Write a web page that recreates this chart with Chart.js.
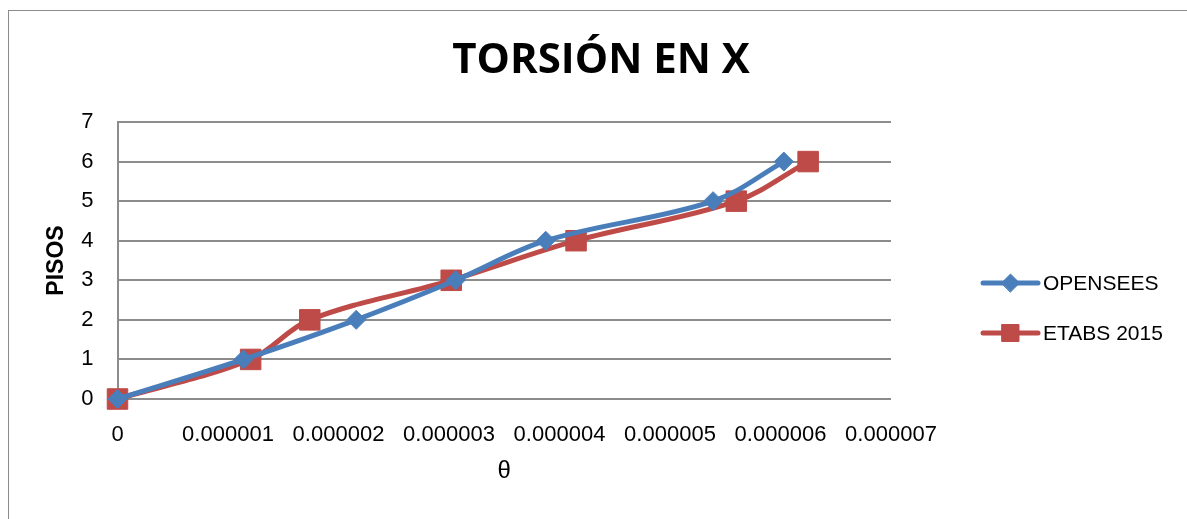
<!DOCTYPE html>
<html>
<head>
<meta charset="utf-8">
<script src="https://cdn.jsdelivr.net/npm/chart.js@4.4.1/dist/chart.umd.min.js"></script>
<style>
    html, body { margin: 0; padding: 0; background: #fff; overflow: hidden; }
    #frame { position: absolute; left: 8px; top: 10px; width: 1200px; height: 530px; border: 1px solid #8c8c8c; }
    #wrap { position: absolute; left: 0; top: 0; width: 1187px; height: 519px; }
</style>
</head>
<body>
<div id="frame"></div>
<div id="wrap"><canvas id="torsionChart" width="1187" height="519"></canvas></div>
<script>
// pisos (floors) and rotation theta per floor
const pisos = [0, 1, 2, 3, 4, 5, 6];
const opensees = [0, 1.14e-6, 2.16e-6, 3.06e-6, 3.875e-6, 5.39e-6, 6.03e-6];
const etabs2015 = [0, 1.205e-6, 1.74e-6, 3.02e-6, 4.15e-6, 5.6e-6, 6.25e-6];
const xTicks = [0, 0.000001, 0.000002, 0.000003, 0.000004, 0.000005, 0.000006, 0.000007];

const BLUE = '#4a7ebb';
const RED = '#be4b48';
const FONT = "'Liberation Sans', Arial, sans-serif";

function toPoints(xs, ys) {
    return xs.map((x, i) => ({ x: x, y: ys[i] }));
}

// excel-like legend: line segment with marker, then label
const lineLegend = {
    id: 'lineLegend',
    afterDraw(chart) {
        const ctx = chart.ctx;
        const x0 = 983, x1 = 1038;
        const rows = [283, 333];
        chart.data.datasets.forEach((ds, i) => {
            const y = rows[i];
            ctx.save();
            ctx.strokeStyle = ds.borderColor;
            ctx.lineWidth = 5;
            ctx.lineCap = 'round';
            ctx.beginPath();
            ctx.moveTo(x0, y);
            ctx.lineTo(x1, y);
            ctx.stroke();
            ctx.fillStyle = ds.backgroundColor;
            ctx.strokeStyle = ds.backgroundColor;
            ctx.lineWidth = 1;
            Chart.helpers.drawPoint(ctx, {
                pointStyle: ds.pointStyle,
                radius: ds.pointStyle === 'rect' ? 12 : 9,
                rotation: 0,
                borderWidth: 1
            }, (x0 + x1) / 2, y);
            ctx.fillStyle = '#000';
            ctx.font = '21px ' + FONT;
            ctx.textBaseline = 'middle';
            ctx.textAlign = 'left';
            ctx.fillText(ds.label, 1043, y + 1);
            ctx.restore();
        });
    }
};

const ctx = document.getElementById('torsionChart').getContext('2d');
new Chart(ctx, {
    type: 'scatter',
    data: {
        datasets: [{
            label: 'OPENSEES',
            data: toPoints(opensees, pisos),
            showLine: true,
            borderColor: BLUE,
            backgroundColor: BLUE,
            borderWidth: 5,
            tension: 0.35,
            pointStyle: 'rectRot',
            pointRadius: 9.5,
            pointHoverRadius: 9.5,
            pointBorderWidth: 1,
            clip: false
        }, {
            label: 'ETABS 2015',
            data: toPoints(etabs2015, pisos),
            showLine: true,
            borderColor: RED,
            backgroundColor: RED,
            borderWidth: 5,
            tension: 0.35,
            pointStyle: 'rect',
            pointRadius: 14.5,
            pointHoverRadius: 14.5,
            pointBorderWidth: 1,
            clip: false
        }]
    },
    options: {
        responsive: false,
        animation: false,
        layout: {
            padding: { left: 15, right: 0, top: 0, bottom: 0 }
        },
        plugins: {
            legend: { display: false },
            tooltip: { enabled: false },
            title: {
                display: true,
                text: 'TORSIÓN EN X',
                color: '#000',
                font: { family: "'Open Sans', sans-serif", size: 42, weight: 'bold', lineHeight: 1.2 },
                padding: { top: 36, bottom: 35.6 }
            }
        },
        scales: {
            x: {
                type: 'linear',
                min: 0,
                max: 0.000007,
                afterBuildTicks: (scale) => {
                    scale.ticks = xTicks.map(v => ({ value: v }));
                },
                afterFit: (scale) => { scale.height = 120; },
                ticks: {
                    color: '#000',
                    font: { family: FONT, size: 22 },
                    padding: 23,
                    maxRotation: 0,
                    autoSkip: false,
                    callback: (v) => v === 0 ? '0' : Number(v).toFixed(6)
                },
                grid: { display: false, drawTicks: false },
                border: { display: false },
                title: {
                    display: true,
                    text: 'θ',
                    color: '#000',
                    font: { family: FONT, size: 24, lineHeight: 1.2 },
                    padding: { top: 0, bottom: 33.6 }
                }
            },
            y: {
                type: 'linear',
                min: 0,
                max: 7,
                afterFit: (scale) => { scale.width = 102.5; },
                ticks: {
                    stepSize: 1,
                    color: '#000',
                    font: { family: FONT, size: 22 },
                    padding: 24
                },
                grid: { color: '#8c8c8c', lineWidth: 2, drawTicks: false },
                border: { display: true, color: '#8c8c8c', width: 2 },
                title: {
                    display: true,
                    text: 'PISOS',
                    color: '#000',
                    font: { family: FONT, size: 23, weight: 'bold', lineHeight: 1.2 },
                    padding: { top: 27.7, bottom: 0 }
                }
            },
            // empty right-hand axis that reserves room for the legend
            yLegend: {
                type: 'linear',
                axis: 'y',
                position: 'right',
                afterFit: (scale) => { scale.width = 296; },
                ticks: { display: false },
                grid: { display: false, drawTicks: false },
                border: { display: false }
            }
        }
    },
    plugins: [lineLegend]
});
</script>
</body>
</html>
